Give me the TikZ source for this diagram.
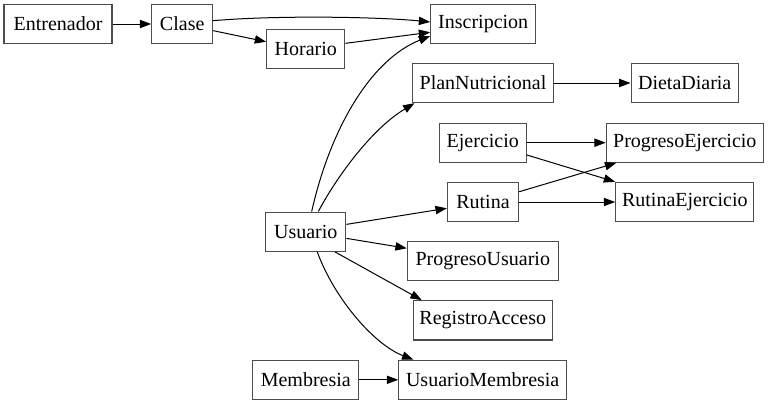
\documentclass[tikz,border=0pt]{standalone}
\usepackage{fontspec}
\setmainfont{Liberation Serif}
\usetikzlibrary{arrows.meta}
\begin{document}
\begin{tikzpicture}[x=0.75pt,y=-0.75pt,
  box/.style={draw=black!70,line width=0.8pt,inner sep=0pt,minimum height=29.5pt,
    font=\fontsize{15}{17}\selectfont},
  edge/.style={draw=black,line width=0.75pt,-{Triangle[length=8.5pt,width=6.2pt]}}]
\useasboundingbox (0,0) rectangle (768,404);
\node[box,minimum width=81pt]    (ent)  at (58,24)      {Entrenador};
\node[box,minimum width=45.75pt] (cla)  at (182.2,24)   {Clase};
\node[box,minimum width=58.7pt]  (hor)  at (305.8,49.2) {Horario};
\node[box,minimum width=78.75pt] (insc) at (483.2,24)   {Inscripcion};
\node[box,minimum width=105.5pt] (plan) at (483,83)     {PlanNutricional};
\node[box,minimum width=80.5pt]  (diet) at (684.7,83)   {DietaDiaria};
\node[box,minimum width=65.25pt] (eje)  at (482.8,142.7){Ejercicio};
\node[box,minimum width=117.75pt](pe)   at (684.8,142.7){ProgresoEjercicio};
\node[box,minimum width=53.5pt]  (rut)  at (483,202)    {Rutina};
\node[box,minimum width=103.7pt] (re)   at (684.8,202)  {RutinaEjercicio};
\node[box,minimum width=60.2pt]  (usu)  at (305.8,231.7){Usuario};
\node[box,minimum width=113.25pt](pu)   at (482.8,261.2){ProgresoUsuario};
\node[box,minimum width=104.25pt](reg)  at (482.8,320.3){RegistroAcceso};
\node[box,minimum width=79.7pt]  (mem)  at (305.8,379.8){Membresia};
\node[box,minimum width=126pt]   (um)   at (482.7,379.8){UsuarioMembresia};

\draw[edge] (ent) -- (cla);
\draw[edge] ([yshift=2.5pt]cla.east) .. controls (280,15) and (380,17) .. ([yshift=1.5pt]insc.west);
\draw[edge] ([yshift=-5pt]cla.east) -- ([yshift=5.6pt]hor.west);
\draw[edge] ([yshift=4.4pt]hor.east) -- ([yshift=-6.2pt]insc.west);
\draw[edge] ([xshift=4.4pt]usu.north) .. controls (330,130) and (370,60) .. ([yshift=-9pt]insc.west);
\draw[edge] ([xshift=9.4pt]usu.north) .. controls (335,180) and (370,130) .. ([xshift=1.7pt]plan.south west);
\draw[edge] (plan) -- (diet);
\draw[edge] (eje) -- (pe);
\draw[edge] ([yshift=-9.2pt]eje.east) -- (re.north west);
\draw[edge] ([yshift=7.7pt]rut.east) -- ([xshift=-51.4pt]pe.south);
\draw[edge] (rut) -- (re);
\draw[edge] ([yshift=5.5pt]usu.east) -- ([yshift=-4.7pt]rut.west);
\draw[edge] ([yshift=-5pt]usu.east) -- ([yshift=9.7pt]pu.west);
\draw[edge] ([xshift=21.9pt]usu.south) -- ([xshift=-45.8pt]reg.north);
\draw[edge] ([xshift=8.6pt]usu.south) .. controls (335,300) and (375,345) .. ([xshift=-52pt]um.north);
\draw[edge] (mem) -- (um);
\end{tikzpicture}
\end{document}
